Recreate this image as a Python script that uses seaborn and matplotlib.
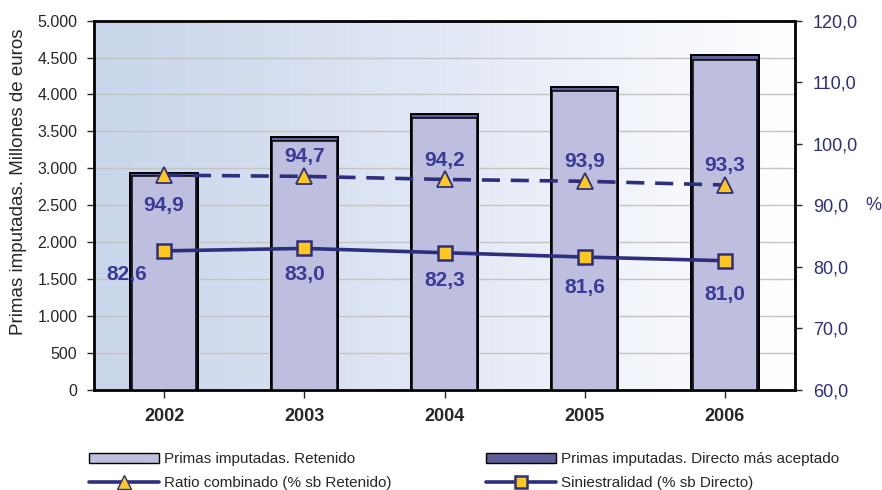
import numpy as np
import pandas as pd
import matplotlib
matplotlib.use("Agg")
import matplotlib.pyplot as plt
import seaborn as sns
from matplotlib.patches import Patch
from matplotlib.lines import Line2D
from matplotlib.ticker import FuncFormatter, MultipleLocator

years = ["2002", "2003", "2004", "2005", "2006"]
retenido = [2895, 3375, 3675, 4050, 4460]
directo = [2940, 3425, 3740, 4100, 4535]
ratio_combinado = [94.9, 94.7, 94.2, 93.9, 93.3]
siniestralidad = [82.6, 83.0, 82.3, 81.6, 81.0]

sns.set_theme(style="white")
plt.rcParams["font.family"] = ["Liberation Sans", "DejaVu Sans"]

navy = "#2E2E7E"
label_col = "#3A3A98"
gold = "#FFC81E"

fig = plt.figure(figsize=(8.82, 4.90), dpi=100)
ax = fig.add_axes([0.1066, 0.204, 0.7948, 0.754])

df = pd.DataFrame({"year": years, "retenido": retenido, "directo": directo})

# gradient background
grad = np.linspace(0, 1, 256).reshape(1, -1)
cmap = matplotlib.colors.LinearSegmentedColormap.from_list("bg", ["#C9D5EA", "#E2E8F5", "#FFFFFF"])
ax.imshow(grad, aspect="auto", cmap=cmap, extent=[0, 1, 0, 1], transform=ax.transAxes, zorder=0)

sns.barplot(data=df, x="year", y="directo", color="#5F5F98", edgecolor="black",
            linewidth=1.4, width=0.48, saturation=1, ax=ax, zorder=2)
sns.barplot(data=df, x="year", y="retenido", color="#BEBEDE", edgecolor="black",
            linewidth=1.1, width=0.46, saturation=1, ax=ax, zorder=3)

ax.set_ylim(0, 5000)
ax.set_xlim(-0.5, 4.5)
ax.yaxis.set_major_locator(MultipleLocator(500))
ax.yaxis.set_major_formatter(FuncFormatter(lambda v, p: f"{int(v):,}".replace(",", ".")))
ax.grid(axis="y", color="#C4C4C4", linewidth=1.0, zorder=1)
ax.set_axisbelow(True)
ax.set_xlabel("")
ax.set_ylabel("Primas imputadas. Millones de euros", fontsize=13.5, labelpad=5)
ax.yaxis.set_label_coords(-0.095, 0.565)
ax.tick_params(axis="y", labelsize=11.5, length=5, width=1, direction="out", left=True, pad=7)
ax.tick_params(axis="x", labelsize=13, length=6, width=1, direction="out", bottom=True, pad=7)
for t in ax.get_xticklabels():
    t.set_fontweight("bold")
for s in ax.spines.values():
    s.set_color("black")
    s.set_linewidth(2)

ax2 = ax.twinx()
pos = np.arange(len(years))
sns.lineplot(x=pos, y=ratio_combinado, ax=ax2, color=navy, linewidth=2.6, linestyle=(0, (5, 3)),
             marker="^", markersize=12, markerfacecolor=gold, markeredgecolor=navy,
             markeredgewidth=1.3, zorder=5)
sns.lineplot(x=pos, y=siniestralidad, ax=ax2, color=navy, linewidth=2.6,
             marker="s", markersize=10, markerfacecolor=gold, markeredgecolor=navy,
             markeredgewidth=1.8, zorder=5)
ax2.set_ylim(60, 120)
ax2.set_xlim(-0.5, 4.5)
ax2.yaxis.set_major_locator(MultipleLocator(10))
ax2.yaxis.set_major_formatter(FuncFormatter(lambda v, p: f"{v:.1f}".replace(".", ",")))
ax2.tick_params(axis="y", labelsize=13, labelcolor=navy, length=5, width=1, right=True, pad=8)
ax2.grid(False)
for s in ax2.spines.values():
    s.set_visible(False)
ax2.text(1.1, 90, "%", transform=ax2.get_yaxis_transform(), fontsize=13, color=navy,
         va="center", ha="left")

# data labels (offsets in points)
ratio_off = [(0, -22), (0, 14), (0, 14), (0, 14), (0, 14)]
sin_off = [(-27, -17), (0, -19), (0, -20), (0, -22), (0, -24)]
for i, (v, o) in enumerate(zip(ratio_combinado, ratio_off)):
    ax2.annotate(f"{v:.1f}".replace(".", ","), (pos[i], v), xytext=o, textcoords="offset points",
                 ha="center", va="center", fontsize=15, fontweight="bold", color=label_col, zorder=6)
for i, (v, o) in enumerate(zip(siniestralidad, sin_off)):
    ax2.annotate(f"{v:.1f}".replace(".", ","), (pos[i], v), xytext=o, textcoords="offset points",
                 ha="center", va="center", fontsize=15, fontweight="bold", color=label_col, zorder=6)

handles = [
    Patch(facecolor="#BEBEDE", edgecolor="black", linewidth=1),
    Line2D([], [], color=navy, linewidth=2.6, marker="^", markersize=10,
           markerfacecolor=gold, markeredgecolor=navy),
    Patch(facecolor="#5F5F98", edgecolor="black", linewidth=1),
    Line2D([], [], color=navy, linewidth=2.6, marker="s", markersize=9,
           markerfacecolor=gold, markeredgecolor=navy, markeredgewidth=1.8),
]
labels = ["Primas imputadas. Retenido", "Ratio combinado (% sb Retenido)",
          "Primas imputadas. Directo más aceptado", "Siniestralidad (% sb Directo)"]
fig.legend(handles, labels, ncol=2, loc="lower left", bbox_to_anchor=(0.085, -0.028),
           frameon=False, fontsize=11, handlelength=4.6, handleheight=0.65,
           handletextpad=0.3, columnspacing=6.2, labelspacing=0.62)

fig.savefig("out.png", dpi=100)
